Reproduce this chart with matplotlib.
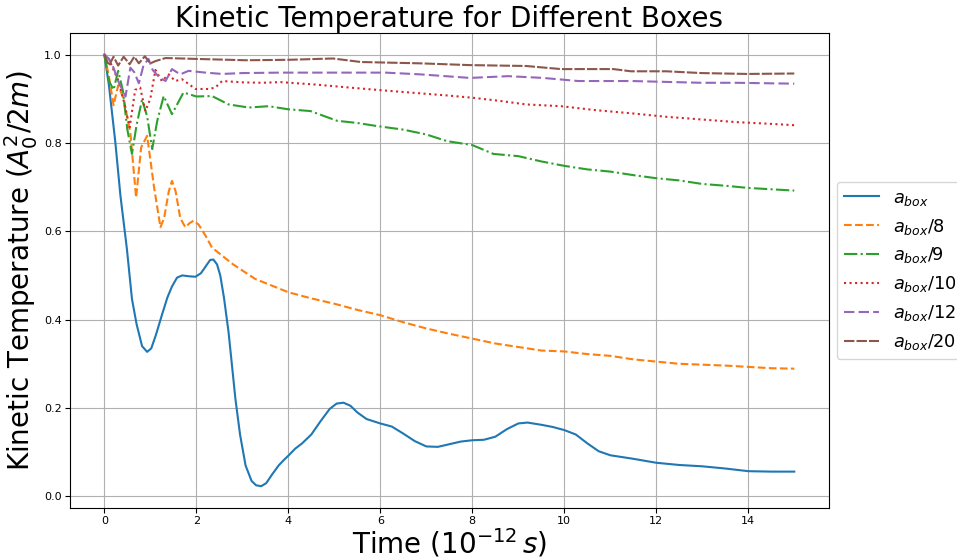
import matplotlib
matplotlib.use("Agg")
import matplotlib.pyplot as plt

# time in units of 1e-12 s, kinetic temperature in A0^2/2m
t_box = [0, 0.1, 0.24, 0.35, 0.49, 0.6, 0.7, 0.82, 0.93, 1.02, 1.12, 1.25, 1.37, 1.47, 1.58, 1.69,
         1.85, 1.98, 2.1, 2.2, 2.3, 2.37, 2.45, 2.52, 2.6, 2.7, 2.85, 2.95, 3.07, 3.2, 3.3, 3.41,
         3.52, 3.65, 3.79, 3.9, 4.0, 4.15, 4.3, 4.5, 4.7, 4.9, 5.05, 5.2, 5.35, 5.5, 5.7, 6.0,
         6.25, 6.5, 6.75, 7.0, 7.25, 7.5, 7.75, 8.0, 8.25, 8.5, 8.75, 9.0, 9.2, 9.5, 9.75, 10.0,
         10.25, 10.5, 10.75, 11.0, 11.5, 12.0, 12.5, 13.0, 13.5, 14.0, 14.5, 15.0]
T_box = [1.0, 0.93, 0.80, 0.68, 0.56, 0.447, 0.39, 0.34, 0.327, 0.335, 0.365, 0.41, 0.45, 0.475, 0.495, 0.50,
         0.498, 0.497, 0.505, 0.52, 0.535, 0.536, 0.525, 0.5, 0.45, 0.372, 0.22, 0.14, 0.07, 0.035, 0.025, 0.023,
         0.03, 0.05, 0.07, 0.082, 0.092, 0.108, 0.12, 0.14, 0.17, 0.198, 0.21, 0.212, 0.205, 0.19, 0.175, 0.165,
         0.158, 0.142, 0.125, 0.113, 0.112, 0.118, 0.124, 0.127, 0.128, 0.135, 0.152, 0.165, 0.167, 0.162, 0.157, 0.15,
         0.14, 0.12, 0.102, 0.093, 0.085, 0.076, 0.071, 0.068, 0.063, 0.057, 0.056, 0.056]

t_8 = [0, 0.1, 0.2, 0.3, 0.42, 0.565, 0.69, 0.8, 0.93, 1.08, 1.22, 1.3, 1.4, 1.47, 1.55, 1.65,
       1.76, 1.85, 1.94, 2.05, 2.2, 2.34, 2.8, 3.28, 4.0, 4.5, 5.0, 5.5, 6.0, 6.5, 7.0, 7.5,
       8.0, 8.5, 9.0, 9.5, 10.0, 10.5, 11.0, 11.5, 12.0, 12.5, 13.0, 13.5, 14.0, 14.5, 15.0]
T_8 = [1.0, 0.95, 0.885, 0.93, 0.9, 0.823, 0.676, 0.79, 0.816, 0.7, 0.609, 0.63, 0.69, 0.714, 0.69, 0.63,
       0.609, 0.618, 0.624, 0.615, 0.59, 0.563, 0.525, 0.492, 0.462, 0.448, 0.436, 0.422, 0.41, 0.394, 0.38, 0.368,
       0.357, 0.346, 0.338, 0.33, 0.328, 0.322, 0.318, 0.31, 0.305, 0.3, 0.298, 0.296, 0.293, 0.29, 0.289]

t_9 = [0, 0.1, 0.2, 0.3, 0.4, 0.5, 0.6, 0.7, 0.82, 0.93, 1.04, 1.15, 1.29, 1.47, 1.72, 2.0,
       2.34, 2.7, 3.14, 3.57, 4.0, 4.48, 5.06, 5.5, 5.93, 6.5, 7.0, 7.45, 8.0, 8.46, 9.0, 9.5,
       10.0, 10.5, 11.0, 11.5, 12.0, 12.5, 13.0, 13.5, 14.0, 14.5, 15.0]
T_9 = [1.0, 0.94, 0.92, 0.963, 0.92, 0.83, 0.775, 0.84, 0.898, 0.86, 0.786, 0.85, 0.906, 0.865, 0.914, 0.905,
       0.906, 0.887, 0.88, 0.883, 0.876, 0.872, 0.85, 0.845, 0.838, 0.83, 0.819, 0.804, 0.795, 0.775, 0.77, 0.758,
       0.748, 0.74, 0.735, 0.727, 0.72, 0.715, 0.707, 0.703, 0.698, 0.695, 0.692]

t_10 = [0, 0.1, 0.2, 0.31, 0.42, 0.55, 0.67, 0.78, 0.89, 1.0, 1.11, 1.25, 1.4, 1.54, 1.69, 1.98,
        2.27, 2.41, 2.56, 3.0, 3.43, 3.83, 4.59, 5.35, 6.04, 6.88, 7.49, 8.02, 8.6, 9.17, 9.93, 10.69,
        11.45, 12.22, 12.98, 13.74, 14.5, 15.0]
T_10 = [1.0, 0.99, 0.965, 0.94, 0.895, 0.835, 0.92, 0.925, 0.872, 0.9, 0.965, 0.94, 0.955, 0.94, 0.944, 0.922,
        0.922, 0.925, 0.94, 0.937, 0.936, 0.9375, 0.932, 0.925, 0.919, 0.912, 0.907, 0.902, 0.895, 0.887, 0.883, 0.874,
        0.867, 0.859, 0.853, 0.847, 0.843, 0.84]

t_12 = [0, 0.1, 0.2, 0.3, 0.46, 0.565, 0.65, 0.75, 0.85, 0.96, 1.05, 1.2, 1.33, 1.47, 1.65, 1.83,
        2.2, 2.56, 3.0, 3.83, 4.97, 6.12, 6.88, 7.95, 8.78, 9.54, 10.3, 10.69, 11.45, 12.22, 12.98, 13.74,
        15.0]
T_12 = [1.0, 0.99, 0.97, 0.94, 0.905, 0.97, 0.96, 0.935, 0.975, 0.99, 0.965, 0.948, 0.94, 0.967, 0.955, 0.963,
        0.959, 0.956, 0.958, 0.959, 0.959, 0.959, 0.955, 0.947, 0.951, 0.947, 0.94, 0.94, 0.94, 0.938, 0.936, 0.936,
        0.934]

t_20 = [0, 0.1, 0.2, 0.3, 0.42, 0.55, 0.65, 0.75, 0.88, 1.0, 1.11, 1.33, 2.0, 3.07, 4.0, 4.97,
        5.58, 6.87, 7.95, 9.17, 9.93, 11.07, 11.45, 12.22, 12.98, 13.97, 15.0]
T_20 = [1.0, 0.975, 0.995, 0.975, 0.995, 0.978, 0.995, 0.98, 0.996, 0.98, 0.985, 0.992, 0.99, 0.987, 0.988, 0.991,
        0.983, 0.98, 0.976, 0.974, 0.967, 0.967, 0.962, 0.962, 0.958, 0.956, 0.957]

labels = [r'$a_{box}$', r'$a_{box}/8$', r'$a_{box}/9$', r'$a_{box}/10$', r'$a_{box}/12$', r'$a_{box}/20$']

fig = plt.figure(figsize=(9.57, 5.58), dpi=100)
ax = fig.add_axes([0.073, 0.09, 0.793, 0.851])

ax.plot(t_box, T_box, color='tab:blue', label=labels[0])
ax.plot(t_8, T_8, color='tab:orange', linestyle='--', label=labels[1])
ax.plot(t_9, T_9, color='tab:green', linestyle='-.', label=labels[2])
ax.plot(t_10, T_10, color='tab:red', linestyle=':', label=labels[3])
ax.plot(t_12, T_12, color='tab:purple', dashes=(5, 2), label=labels[4])
ax.plot(t_20, T_20, color='tab:brown', dashes=(5, 1), label=labels[5])

ax.set_title('Kinetic Temperature for Different Boxes', fontsize=20, pad=3)
ax.set_xlabel(r'Time $(10^{-12}\,s)$', fontsize=20, labelpad=0)
ax.set_ylabel(r'Kinetic Temperature $(A_0^2/2m)$', fontsize=20, labelpad=3)
ax.tick_params(labelsize=8, length=3.5, pad=2.5)
ax.grid(True)
ax.legend(loc='center left', bbox_to_anchor=(1.0, 0.5), fontsize=12.8,
          borderaxespad=0.45, handletextpad=0.75)

fig.savefig('out.png', dpi=100)
